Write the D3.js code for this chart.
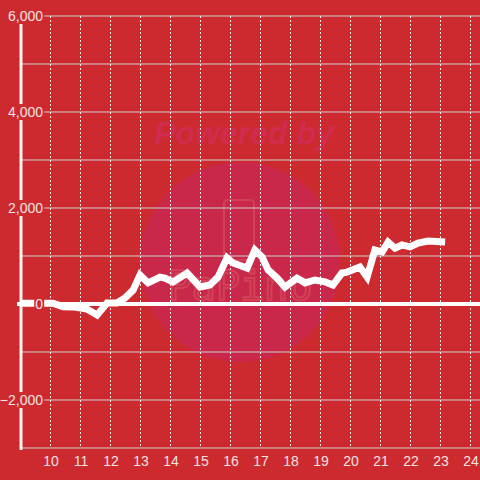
<!DOCTYPE html>
<html>
<head>
<meta charset="utf-8">
<script src="https://cdn.jsdelivr.net/npm/d3@7"></script>
<style>
  body { margin: 0; background: #cd2a2f; }
  svg { display: block; }
</style>
</head>
<body>
<div id="chart"></div>
<script>
// hours of the day and values
var hours = [9.00, 10.10, 10.43, 10.77, 11.23, 11.57, 11.90, 12.23, 12.50, 12.77,
             13.00, 13.27, 13.67, 13.83, 14.10, 14.57, 15.00, 15.33, 15.60, 15.90,
             16.10, 16.57, 16.83, 17.07, 17.27, 17.57, 17.83, 18.23, 18.50, 18.83,
             19.17, 19.43, 19.73, 19.90, 20.33, 20.57, 20.83, 21.07, 21.27, 21.50,
             21.73, 22.00, 22.27, 22.60, 23.17];
var values = [15, 15, -55, -60, -105, -230, 20, 20, 125, 290,
              605, 440, 560, 540, 460, 645, 355, 395, 560, 960,
              855, 750, 1125, 980, 710, 540, 355, 540, 440, 500,
              460, 395, 645, 665, 770, 560, 1125, 1085, 1290, 1165,
              1230, 1190, 1270, 1310, 1290];
var xTicks = [10, 11, 12, 13, 14, 15, 16, 17, 18, 19, 20, 21, 22, 23, 24];
var yTicks = [-2000, 0, 2000, 4000, 6000];
var yGrid = [-3000, -2000, -1000, 0, 1000, 2000, 3000, 4000, 5000, 6000];

var width = 480, height = 480;
var bg = "#cd2a2f";

var x = d3.scaleLinear().domain([9, 24.3333]).range([20, 480]);
var y = d3.scaleLinear().domain([-3000, 6000]).range([448, 16]);

var svg = d3.select("#chart").append("svg")
    .attr("width", width)
    .attr("height", height);

svg.append("rect").attr("width", width).attr("height", height).attr("fill", bg);

// watermark
var wm = svg.append("g");
wm.append("circle").attr("cx", 240).attr("cy", 262).attr("r", 100).attr("fill", "#c9284a");
wm.append("text")
    .attr("x", 244).attr("y", 144)
    .attr("text-anchor", "middle")
    .attr("font-family", "Liberation Sans, Arial, sans-serif")
    .attr("font-size", 32).attr("font-weight", "bold").attr("font-style", "italic")
    .attr("fill", "#cf2c50")
    .text("Powered by");
wm.append("rect")
    .attr("x", 224).attr("y", 200).attr("width", 30).attr("height", 60).attr("rx", 4)
    .attr("fill", "none").attr("stroke", "#d9545f").attr("stroke-width", 2).attr("opacity", 0.6);
wm.append("text")
    .attr("x", 240).attr("y", 300)
    .attr("text-anchor", "middle")
    .attr("font-family", "DejaVu Sans Mono, monospace")
    .attr("font-size", 40)
    .attr("fill", "none").attr("stroke", "#d9545f").attr("stroke-width", 2).attr("opacity", 0.6)
    .text("PaPino");

// horizontal grid
svg.append("g").selectAll("line")
    .data(yGrid.filter(function(d) { return d !== 0; }))
    .enter().append("line")
    .attr("x1", 20).attr("x2", 480)
    .attr("y1", function(d) { return y(d); })
    .attr("y2", function(d) { return y(d); })
    .attr("stroke", "#d0d0d0")
    .attr("stroke-width", 1);

// vertical dashed grid
svg.append("g").selectAll("line")
    .data(xTicks)
    .enter().append("line")
    .attr("x1", function(d) { return x(d) + 0.5; })
    .attr("x2", function(d) { return x(d) + 0.5; })
    .attr("y1", y(6000)).attr("y2", y(-3000))
    .attr("stroke", "#e8e8e8")
    .attr("stroke-width", 1)
    .attr("stroke-dasharray", "2,2");

// left axis bar and zero line
svg.append("line")
    .attr("x1", 21).attr("x2", 21)
    .attr("y1", 24).attr("y2", 450)
    .attr("stroke", "#f4f4f4").attr("stroke-width", 3);
svg.append("line")
    .attr("x1", 17).attr("x2", 480)
    .attr("y1", y(0)).attr("y2", y(0))
    .attr("stroke", "#ffffff").attr("stroke-width", 4);

// the series
var line = d3.line()
    .x(function(d, i) { return x(hours[i]); })
    .y(function(d) { return y(d); });

svg.append("path")
    .datum(values)
    .attr("d", line)
    .attr("fill", "none")
    .attr("stroke", "#ffffff")
    .attr("stroke-width", 7)
    .attr("stroke-linejoin", "miter");

// y labels with background
var yl = svg.append("g").selectAll("g")
    .data(yTicks)
    .enter().append("g")
    .attr("transform", function(d) { return "translate(43," + y(d) + ")"; });
yl.append("text")
    .attr("text-anchor", "end")
    .attr("dy", "0.36em")
    .attr("font-family", "Liberation Sans, Arial, sans-serif")
    .attr("font-size", 14)
    .attr("fill", "#f3e3e3")
    .text(function(d) { return d3.format(",")(d); })
    .each(function() {
        var b = this.getBBox();
        d3.select(this.parentNode).insert("rect", "text")
            .attr("x", b.x - 1).attr("y", b.y)
            .attr("width", b.width + 2).attr("height", b.height)
            .attr("fill", bg);
    });

// x labels
svg.append("g").selectAll("text")
    .data(xTicks)
    .enter().append("text")
    .attr("x", function(d) { return x(d) + 1; })
    .attr("y", 466)
    .attr("text-anchor", "middle")
    .attr("font-family", "Liberation Sans, Arial, sans-serif")
    .attr("font-size", 14)
    .attr("fill", "#f3e3e3")
    .text(function(d) { return d; });
</script>
</body>
</html>
